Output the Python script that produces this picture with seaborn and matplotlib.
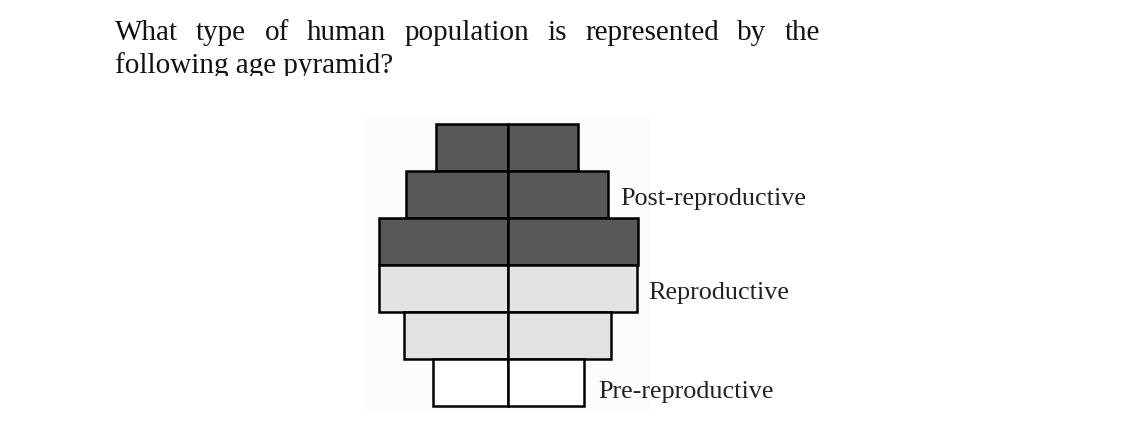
import matplotlib
matplotlib.use("Agg")
import numpy as np
import pandas as pd
import matplotlib.pyplot as plt
import seaborn as sns
from matplotlib.patches import Rectangle

# data (half-widths of each bar, top row = oldest)
age_groups = ["Old 3", "Old 2", "Old 1", "Adult 2", "Adult 1", "Young"]
left_share = [72, 102, 129, 129, 104, 75]
right_share = [70, 100, 130, 129, 103, 76]
row_colors = ["#585858", "#585858", "#585858", "#e3e3e3", "#e3e3e3", "#ffffff"]
stage_labels = ["Post-reproductive", "Reproductive", "Pre-reproductive"]
title_lines = ["What type of human population is represented by the",
               "following age pyramid?"]

# layout (figure pixels / data coords)
W, H = 1129, 446
label_pos = [(111.7, 1.22), (139.7, 3.22), (89.7, 5.33)]

sns.set_theme(style="white")
plt.rcParams["font.family"] = ["Liberation Serif", "DejaVu Serif"]

fig = plt.figure(figsize=(W / 100, H / 100), dpi=100)
fig.patch.set_facecolor("white")

# faint scanned-image backdrop behind the pyramid
fig.patches.append(Rectangle((365 / W, 1 - 411 / H), 285 / W, 294 / H,
                             transform=fig.transFigure, facecolor="#fcfcfc",
                             edgecolor="none", zorder=-1))

ax = fig.add_axes([360 / W, 1 - 406 / H, 300 / W, 282 / H])
ax.set_zorder(2)
df = pd.DataFrame({"group": age_groups,
                   "left": [-v for v in left_share],
                   "right": right_share})
for col in ["left", "right"]:
    sns.barplot(data=df, x=col, y="group", hue="group", palette=row_colors,
                orient="h", width=1, saturation=1, edgecolor="black",
                linewidth=1.8, legend=False, ax=ax)
for p in ax.patches:
    p.set_clip_on(False)
ax.set_xlim(-148.3, 151.7)
ax.set_ylim(5.5, -0.5)
ax.axis("off")

for txt, (x, y) in zip(stage_labels, label_pos):
    ax.text(x, y, txt, fontsize=18.8, va="baseline", ha="left", color="#222222")

# question text, first line justified
renderer = fig.canvas.get_renderer()
words = title_lines[0].split()
arts = [fig.text(0, 1 - 40 / H, w, fontsize=21, va="baseline", color="#111111")
        for w in words]
widths = [a.get_window_extent(renderer).width for a in arts]
gap = (705 - sum(widths)) / (len(words) - 1)
x = 115
for a, w in zip(arts, widths):
    a.set_x(x / W)
    x += w + gap

line2 = fig.text(115 / W, 1 - 73 / H, title_lines[1], fontsize=21,
                 va="baseline", color="#111111")
clip = Rectangle((0, 1 - 76 / H), 1, 40 / H, transform=fig.transFigure)
line2.set_clip_path(clip)

fig.savefig("out.png", dpi=100)
